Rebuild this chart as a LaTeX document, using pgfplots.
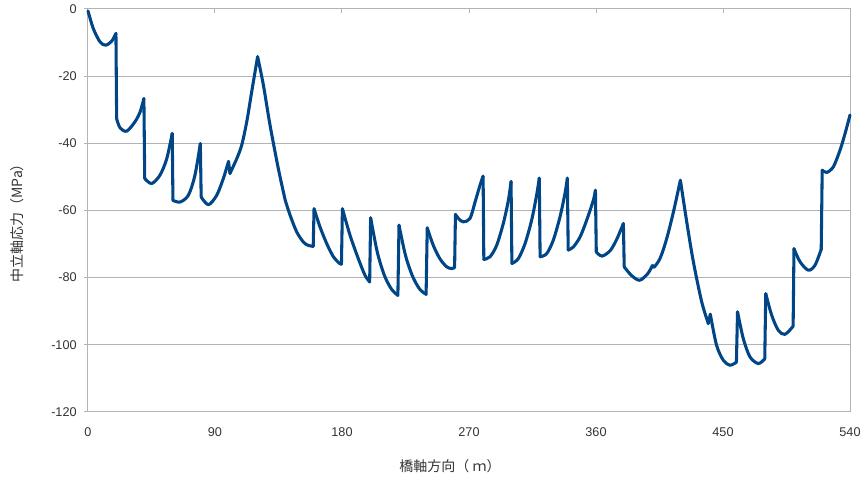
\documentclass[border=0pt]{standalone}
\usepackage{fontspec}
\setmainfont{Liberation Sans}
\newfontfamily\cjk{Noto Sans CJK JP}
\usepackage{pgfplots}
\pgfplotsset{compat=1.18}
\definecolor{lineblue}{HTML}{004586}
\definecolor{gridgray}{HTML}{B3B3B3}
\definecolor{labelgray}{HTML}{333333}

\begin{document}
\begin{tikzpicture}
\begin{axis}[
  scale only axis,
  width=571.5pt, height=302.25pt,
  xmin=0, xmax=540, ymin=-120, ymax=0,
  xtick={0,90,...,540},
  ytick={-120,-100,...,0},
  axis lines=box,
  axis line style={draw=gridgray, line width=0.75pt},
  ymajorgrids,
  grid style={draw=gridgray, line width=0.75pt},
  tick align=outside,
  major tick length=3pt,
  tick style={draw=gridgray, line width=0.75pt},
  xtick pos=upper,
  xticklabel pos=lower,
  ytick pos=left,
  x tick style={yshift=-3pt},
  ticklabel style={font=\fontsize{9.5}{11}\selectfont, text=labelgray},
  xticklabel style={yshift=-5pt},
  yticklabel style={xshift=-2pt},
  /pgf/number format/assume math mode=true,
  unbounded coords=jump,
  clip=false,
]
% smooth pieces between the jumps
\addplot[lineblue, line width=2.3pt, line join=round, line cap=round, smooth, tension=0.5] table {
x y
0 -0.6
3.8 -5.9
8.5 -9.8
12.5 -10.8
16.8 -9.6
19.8 -7.3
nan nan
20.3 -32.7
22.7 -35.4
27.4 -36.4
33.3 -33.6
36.9 -30.7
39.6 -26.7
nan nan
40.2 -50.5
45.1 -52
51 -49.5
55.8 -44.6
59.7 -37.1
nan nan
60.2 -57
65.2 -57.5
71.1 -55.5
75.8 -49.5
79.6 -40.1
nan nan
80.2 -56
85.3 -58.3
91.2 -55.5
95.9 -50.5
99.6 -45.4
nan nan
100.6 -49
105.4 -44.6
108.9 -40.6
112.5 -33.6
116 -24.7
120.2 -14.2
nan nan
120.2 -14.2
124.3 -22.7
129 -34.6
134.9 -47.6
139.8 -57
nan nan
139.8 -57
143.2 -61.4
147.9 -66.4
152.6 -69.4
156 -70.4
159.6 -70.7
nan nan
160.2 -59.5
164.4 -64.9
169.2 -69.9
173.9 -73.8
178 -75.7
179.6 -76
nan nan
180.3 -59.5
185.7 -67.4
191.6 -74.4
196.3 -79.3
199.6 -81.3
nan nan
200.3 -62.2
205 -72.4
210 -79.3
215 -83.4
219.6 -85.3
nan nan
220.4 -64.4
225 -73.4
230 -79.6
235 -83.4
239.6 -85
nan nan
240.4 -65.2
244.7 -70.4
249.4 -74.4
254.2 -76.8
257.7 -77.3
259.8 -77
nan nan
260.4 -61.2
263 -62.6
266 -63.4
270.7 -62.4
274.3 -57.5
277.8 -52.5
280 -49.8
nan nan
280.5 -74.6
284.9 -73.8
289.6 -70.4
294.3 -63.9
297.9 -57
299.8 -51.4
nan nan
300.4 -75.8
304.9 -74.4
309.7 -69.9
314.4 -62.9
317.9 -55.5
319.8 -50.4
nan nan
320.4 -73.8
325 -72.9
329.7 -68.9
334.5 -61.9
338 -55
339.7 -50.4
nan nan
340.3 -71.8
343.9 -70.9
348.7 -67.9
353.4 -62.9
358.1 -57
359.6 -54
nan nan
360.2 -72.4
364.3 -73.6
370.2 -71.9
374.9 -68.4
379.4 -63.9
nan nan
380 -76.8
385 -79.3
390.9 -80.8
396.7 -78.8
400 -76.4
nan nan
401.2 -76.9
405.4 -74.3
410.1 -68.4
414.9 -60.4
419.8 -51
nan nan
419.8 -51
424.3 -63.4
429 -75.3
434.9 -87.2
439.6 -93.7
nan nan
441 -90.9
445.4 -100.1
450.2 -104.6
454.9 -106.1
459.5 -105.2
nan nan
460.3 -90.2
464.4 -98.2
469.1 -103.6
475 -105.6
479.6 -104.2
nan nan
480.3 -84.8
484.5 -91.2
489.2 -95.7
493.9 -96.9
499.7 -94.5
nan nan
500.3 -71.4
504.6 -75.3
510.5 -77.8
515.2 -76.3
519.6 -71.6
nan nan
520.3 -48
523.5 -48.7
528.2 -47
532.9 -42.1
536.5 -37.1
540 -31.6
};
% straight jumps joining the pieces
\addplot[lineblue, line width=2.3pt, line cap=round] table {
x y
19.8 -7.3
20.3 -32.7
nan nan
39.6 -26.7
40.2 -50.5
nan nan
59.7 -37.1
60.2 -57
nan nan
79.6 -40.1
80.2 -56
nan nan
99.6 -45.4
100.6 -49
nan nan
159.6 -70.7
160.2 -59.5
nan nan
179.6 -76
180.3 -59.5
nan nan
199.6 -81.3
200.3 -62.2
nan nan
219.6 -85.3
220.4 -64.4
nan nan
239.6 -85
240.4 -65.2
nan nan
259.8 -77
260.4 -61.2
nan nan
280 -49.8
280.5 -74.6
nan nan
299.8 -51.4
300.4 -75.8
nan nan
319.8 -50.4
320.4 -73.8
nan nan
339.7 -50.4
340.3 -71.8
nan nan
359.6 -54
360.2 -72.4
nan nan
379.4 -63.9
380 -76.8
nan nan
400 -76.4
401.2 -76.9
nan nan
439.6 -93.7
441 -90.9
nan nan
459.5 -105.2
460.3 -90.2
nan nan
479.6 -104.2
480.3 -84.8
nan nan
499.7 -94.5
500.3 -71.4
nan nan
519.6 -71.6
520.3 -48
};
\node[font=\cjk\fontsize{10.5}{12}\selectfont, text=labelgray] at (axis cs:256.5,-120) [yshift=-41pt] {橋軸方向（ ｍ）};
\node[font=\cjk\fontsize{10.5}{12}\selectfont, text=labelgray, rotate=90] at ([shift={(-53.25pt,-7pt)}]rel axis cs:0,0.5) {中立軸応力（MPa）};
\end{axis}
\path (current axis.south west) ++(-66pt,-51pt) rectangle ([shift={(12pt,5.25pt)}]current axis.north east);
\end{tikzpicture}
\end{document}
